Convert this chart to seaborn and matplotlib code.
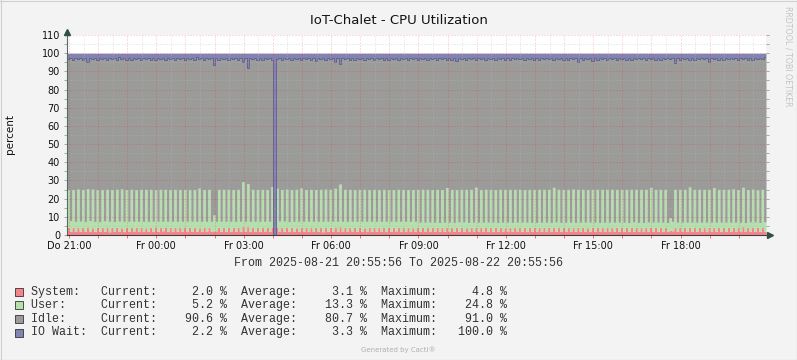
import numpy as np
import pandas as pd
import matplotlib
matplotlib.use("Agg")
import matplotlib.pyplot as plt
import seaborn as sns
from matplotlib.lines import Line2D
from matplotlib.patches import Rectangle

# 5-minute samples, 2025-08-21 20:55:56 -> 2025-08-22 20:55:56 (one row = 2 hours)
system = [
    4.2, 2.0, 4.4, 1.9, 4.1, 2.1, 4.3, 2.0, 4.5, 2.2, 4.0, 1.9, 4.2, 2.0, 4.3, 2.1, 4.1, 1.8, 4.4, 2.0, 4.2, 2.1, 4.0, 1.9,
    4.3, 2.0, 4.1, 2.2, 4.4, 1.9, 4.2, 2.0, 4.0, 2.1, 4.3, 1.9, 4.5, 2.0, 4.2, 2.3, 4.1, 2.0, 4.3, 1.9, 4.2, 2.1, 4.4, 2.0,
    4.1, 1.9, 4.2, 2.0, 4.3, 2.1, 4.0, 2.0, 4.4, 1.9, 4.2, 2.2, 2.3, 2.3, 4.3, 2.0, 4.2, 1.9, 4.1, 2.0, 4.3, 2.1, 4.2, 2.0,
    4.8, 2.1, 4.6, 2.0, 4.2, 1.9, 4.3, 2.0, 4.1, 2.2, 4.2, 2.0, 4.4, 0.0, 4.3, 2.0, 4.1, 2.1, 4.2, 1.9, 4.3, 2.0, 4.0, 2.1,
    4.4, 2.0, 4.2, 1.9, 4.1, 2.1, 4.3, 2.0, 4.2, 1.8, 4.1, 2.0, 4.3, 2.1, 4.5, 2.0, 4.6, 1.9, 4.2, 2.0, 4.1, 2.2, 4.3, 2.0,
    4.2, 2.1, 4.0, 1.9, 4.3, 2.0, 4.2, 2.1, 4.4, 2.0, 4.1, 1.9, 4.2, 2.0, 4.3, 2.2, 4.1, 2.0, 4.2, 1.9, 4.3, 2.1, 4.0, 2.0,
    4.3, 2.0, 4.2, 2.1, 4.1, 1.9, 4.4, 2.0, 4.2, 2.1, 4.3, 2.0, 4.1, 1.9, 4.2, 2.0, 4.3, 2.1, 4.2, 2.0, 4.0, 1.9, 4.3, 2.1,
    4.2, 2.0, 4.4, 2.1, 4.1, 1.9, 4.2, 2.0, 4.3, 2.1, 4.2, 2.0, 4.0, 1.9, 4.3, 2.0, 4.2, 2.2, 4.1, 2.0, 4.3, 1.9, 4.2, 2.0,
    4.1, 2.1, 4.3, 2.0, 4.2, 1.9, 4.4, 2.0, 4.2, 2.1, 4.1, 2.0, 4.3, 1.9, 4.2, 2.0, 4.1, 2.1, 4.3, 2.0, 4.2, 1.9, 4.0, 2.1,
    4.3, 2.0, 4.2, 2.1, 4.1, 1.9, 4.2, 2.0, 4.4, 2.1, 4.3, 2.0, 4.1, 1.9, 4.2, 2.0, 4.3, 2.1, 4.2, 2.0, 4.1, 1.9, 4.3, 2.0,
    4.2, 2.1, 4.4, 2.0, 4.1, 1.9, 4.2, 2.0, 2.6, 2.3, 4.3, 2.0, 4.1, 2.1, 4.2, 1.9, 4.3, 2.0, 4.4, 2.1, 4.2, 2.0, 4.1, 1.9,
    4.3, 2.0, 4.2, 2.1, 4.1, 1.9, 4.2, 2.0, 4.3, 2.1, 4.2, 2.0, 4.1, 1.9, 4.6, 2.0, 4.2, 2.1, 4.3, 2.0, 4.2, 1.9, 4.1, 2.0,
]
user = [
    20.8, 5.8, 20.6, 5.6, 21.1, 5.5, 20.7, 5.4, 20.9, 5.6, 21.2, 5.5, 20.8, 5.3, 20.6, 5.6, 21.0, 5.7, 20.5, 5.4, 20.9, 5.5, 21.3, 5.6,
    20.7, 5.5, 21.0, 5.3, 20.6, 5.6, 20.9, 5.5, 21.1, 5.4, 20.8, 5.6, 20.4, 5.5, 20.9, 5.2, 21.0, 5.5, 20.7, 5.6, 20.9, 5.4, 20.6, 5.5,
    21.0, 5.6, 20.8, 5.5, 20.7, 5.4, 21.8, 5.5, 20.6, 5.6, 20.9, 5.3, 8.7, 5.2, 20.8, 5.5, 20.9, 5.6, 21.0, 5.5, 20.7, 5.4, 20.9, 5.5,
    24.5, 5.4, 23.6, 5.5, 20.9, 5.6, 20.7, 5.5, 21.0, 5.3, 20.8, 5.5, 22.2, 0.0, 21.4, 5.6, 20.9, 5.5, 21.0, 5.4, 20.7, 5.5, 21.1, 5.4,
    21.4, 5.5, 20.8, 5.6, 21.0, 5.4, 20.7, 5.5, 20.9, 5.7, 21.1, 5.5, 20.8, 5.4, 21.2, 5.5, 23.4, 5.6, 20.9, 5.5, 21.0, 5.3, 20.7, 5.5,
    20.9, 5.4, 21.1, 5.6, 20.7, 5.5, 20.9, 5.4, 20.6, 5.5, 21.0, 5.6, 20.8, 5.5, 20.7, 5.3, 21.0, 5.5, 20.8, 5.6, 20.7, 5.4, 21.0, 5.5,
    20.8, 5.0, 20.9, 4.9, 21.0, 5.1, 20.6, 5.0, 20.9, 4.8, 20.7, 5.0, 22.0, 5.1, 20.9, 4.9, 20.7, 5.0, 20.9, 5.1, 21.1, 5.0, 20.8, 4.9,
    22.1, 5.0, 20.6, 4.9, 21.0, 5.1, 20.9, 5.0, 20.7, 4.8, 20.9, 5.0, 21.1, 5.1, 20.8, 4.9, 20.9, 4.8, 21.0, 5.0, 20.7, 5.1, 20.9, 4.9,
    21.0, 4.8, 20.8, 5.0, 20.9, 5.1, 20.7, 4.9, 22.0, 5.0, 21.0, 4.9, 20.8, 5.1, 20.9, 5.0, 21.1, 4.8, 20.8, 5.0, 20.9, 5.1, 21.0, 4.9,
    20.8, 5.0, 20.9, 4.8, 21.0, 5.1, 20.9, 5.0, 20.7, 4.9, 20.8, 5.0, 21.0, 5.1, 20.9, 4.8, 20.8, 5.0, 20.9, 4.9, 21.0, 5.0, 20.8, 5.1,
    22.0, 4.9, 20.7, 5.0, 21.0, 5.1, 20.9, 4.8, 6.9, 5.2, 20.8, 5.0, 21.0, 4.9, 20.9, 5.1, 22.1, 5.0, 20.7, 4.9, 20.9, 5.0, 21.0, 5.1,
    20.8, 5.0, 21.9, 4.9, 21.0, 5.1, 20.9, 5.0, 20.8, 4.9, 21.1, 5.0, 20.9, 5.1, 21.6, 4.8, 20.8, 5.0, 20.9, 5.1, 20.7, 4.9, 21.0, 5.2,
]
iowait = [
    3.4, 2.4, 3.5, 2.5, 3.3, 2.4, 3.6, 2.5, 4.7, 2.4, 3.4, 2.6, 3.5, 2.4, 3.3, 2.5, 3.6, 2.4, 3.4, 2.5, 3.5, 2.3, 3.4, 2.5,
    3.9, 2.4, 3.5, 2.5, 3.4, 2.4, 3.6, 2.5, 3.3, 2.4, 3.5, 2.6, 3.9, 2.4, 3.4, 2.5, 3.5, 2.4, 3.3, 2.5, 3.6, 2.4, 3.4, 2.5,
    3.5, 2.4, 3.4, 2.5, 3.6, 2.3, 3.4, 2.5, 3.5, 2.4, 3.3, 2.5, 6.5, 2.4, 3.5, 2.5, 3.4, 2.4, 3.6, 2.5, 3.4, 2.4, 3.5, 2.5,
    5.0, 2.4, 8.0, 2.5, 3.4, 2.4, 3.5, 2.5, 3.6, 2.4, 3.4, 2.5, 3.5, 100.0, 3.4, 2.4, 3.6, 2.5, 3.3, 2.4, 3.5, 2.5, 3.4, 2.4,
    3.5, 2.5, 3.4, 2.4, 3.6, 2.5, 4.2, 2.4, 3.4, 2.5, 3.5, 2.4, 3.3, 2.5, 4.6, 2.4, 5.8, 2.5, 3.4, 2.4, 3.5, 2.5, 3.6, 2.4,
    3.4, 2.5, 3.5, 2.4, 3.3, 2.5, 3.6, 2.4, 3.4, 2.5, 3.5, 2.4, 3.6, 2.5, 3.4, 2.4, 3.5, 2.5, 3.3, 2.4, 4.0, 2.5, 3.4, 2.4,
    3.5, 2.5, 3.4, 2.4, 3.6, 2.5, 3.3, 2.4, 3.5, 2.5, 3.4, 2.4, 3.6, 2.5, 3.5, 2.4, 4.2, 2.5, 3.4, 2.4, 3.5, 2.5, 3.3, 2.4,
    3.6, 2.5, 3.4, 2.4, 3.5, 2.5, 3.3, 2.4, 3.6, 2.5, 3.4, 2.4, 3.5, 2.5, 3.6, 2.4, 3.4, 2.5, 3.3, 2.4, 3.5, 2.5, 3.4, 2.4,
    3.5, 2.5, 3.6, 2.4, 3.4, 2.5, 3.3, 2.4, 3.5, 2.5, 3.4, 2.4, 3.6, 2.5, 3.5, 2.4, 3.4, 2.5, 4.7, 2.4, 3.5, 2.5, 3.4, 2.4,
    4.2, 2.5, 3.5, 2.4, 3.4, 2.5, 3.6, 2.4, 3.3, 2.5, 3.5, 2.4, 3.4, 2.5, 3.6, 2.4, 3.5, 2.5, 3.4, 2.4, 3.3, 2.5, 3.5, 2.4,
    3.4, 2.5, 3.6, 2.4, 3.5, 2.5, 3.4, 2.4, 3.3, 2.5, 5.2, 2.4, 3.5, 2.5, 3.4, 2.4, 3.6, 2.5, 3.5, 2.4, 3.4, 2.5, 3.3, 2.4,
    4.6, 2.5, 3.4, 2.4, 3.5, 2.5, 3.6, 2.4, 3.4, 2.5, 3.3, 2.4, 3.5, 2.5, 3.4, 2.4, 3.6, 2.5, 3.5, 2.4, 3.4, 2.5, 3.3, 2.2,
]

series_names = ["System", "User", "Idle", "IO Wait"]
current = [2.0, 5.2, 90.6, 2.2]
average = [3.1, 13.3, 80.7, 3.3]
maximum = [4.8, 24.8, 91.0, 100.0]
hour_labels = ["Do 21:00", "Fr 00:00", "Fr 03:00", "Fr 06:00", "Fr 09:00", "Fr 12:00", "Fr 15:00", "Fr 18:00"]
start_str = "2025-08-21 20:55:56"
end_str = "2025-08-22 20:55:56"

colors = {"System": "#F4838B", "User": "#B4E0AC", "Idle": "#9B9B99", "IO Wait": "#8383B2"}

df = pd.DataFrame({"System": system, "User": user, "IO Wait": iowait})
df["Idle"] = 100 - df["System"] - df["User"] - df["IO Wait"]
df["t"] = np.arange(len(df)) * 5 / 60  # hours since start
# repeat last sample so the last step reaches the right edge
df = pd.concat([df, df.iloc[[-1]].assign(t=24.0)], ignore_index=True)

sns.set_style("white")
plt.rcParams["font.family"] = ["DejaVu Sans"]

W, H = 797, 360
fx = lambda x: x / W
fy = lambda y: 1 - y / H

fig = plt.figure(figsize=(7.97, 3.6), dpi=100, facecolor="#F3F3F3")
ax = fig.add_axes([fx(67), fy(235), (766 - 67) / W, 200 / H])
ax.set_facecolor("white")

# stacked areas
base = np.zeros(len(df))
for name in series_names:
    top = base + df[name].values
    ax.fill_between(df["t"], base, top, step="post", color=colors[name], lw=0, zorder=2)
    base = top

# outline along the top of idle
idle_top = df["System"] + df["User"] + df["Idle"]
sns.lineplot(x=df["t"], y=idle_top, ax=ax, drawstyle="steps-post", estimator=None,
             color="#5B5B8E", lw=0.6, zorder=3)

ax.set_xlim(0, 24)
ax.set_ylim(0, 110)

# grid (on top of areas, rrdtool style)
major_c = (0.95, 0.15, 0.15, 0.32)
minor_c = (0.72, 0.72, 0.72, 0.5)
dots = (1, 2)
h0 = (4 + 4 / 60) / 60  # 21:00 is 4m04s after start
for k in range(24):
    ax.axvline(h0 + k, color=major_c, lw=0.72, dashes=dots, zorder=4)
    if h0 + k + 0.5 < 24:
        ax.axvline(h0 + k + 0.5, color=minor_c, lw=0.72, dashes=dots, zorder=4)
for v in range(10, 111, 10):
    ax.axhline(v, color=major_c, lw=0.72, dashes=dots, zorder=4)
for v in range(5, 110, 10):
    ax.axhline(v, color=minor_c, lw=0.72, dashes=dots, zorder=4)

# ticks
ax.set_yticks(range(0, 111, 10))
ax.set_yticks(range(5, 110, 10), minor=True)
ax.tick_params(axis="y", which="both", left=True, right=True, length=2.5, width=0.6,
               color="#9a9a9a", labelsize=7, pad=2.5, labelcolor="#111")
ax.set_xticks([h0 + 3 * k for k in range(len(hour_labels))])
ax.set_xticklabels(hour_labels)
ax.set_xticks([h0 + k for k in range(24)], minor=True)
ax.tick_params(axis="x", which="both", bottom=True, length=2, width=0.6,
               color="#e06060", labelsize=7, pad=2.5, labelcolor="#111")
ax.set_xlabel("")
ax.set_ylabel("")

for s in ["top", "right"]:
    ax.spines[s].set_visible(False)
ax.spines["left"].set_color("#4f6f64")
ax.spines["bottom"].set_color("#404040")
ax.spines["left"].set_linewidth(0.8)
ax.spines["bottom"].set_linewidth(0.8)
ax.spines["left"].set_zorder(5)
ax.spines["bottom"].set_zorder(5)
ax.plot([0], [111.8], marker="^", ms=4, color="#2f4f48", clip_on=False, zorder=6)
ax.plot([24.15], [0], marker=">", ms=4, color="#2f4f48", clip_on=False, zorder=6)

# title and side texts
fig.text(fx(398.5), fy(21), "IoT-Chalet - CPU Utilization", ha="center", va="center",
         fontsize=9.5, color="#111")
fig.text(fx(10.5), fy(134), "percent", rotation=90, ha="center", va="center",
         fontsize=7.5, color="#111")
fig.text(fx(788), fy(56), "RRDTOOL / TOBI OETIKER", rotation=270, ha="center", va="center",
         fontsize=5.7, color="#c4c4c4")
mono = "Liberation Mono"
fig.text(fx(398.5), fy(263), f"From {start_str} To {end_str}", ha="center", va="center",
         fontsize=8.4, family=mono, color="#333")

# legend
row_y = [291.7, 305.3, 318.9, 332.5]
for name, cur, avg, mx, y in zip(series_names, current, average, maximum, row_y):
    fig.add_artist(Rectangle((fx(15), fy(y + 4)), 8 / W, 8 / H, transform=fig.transFigure,
                             facecolor=colors[name], edgecolor="#333333", lw=0.6))
    line = f"{name + ':':<10}Current:{cur:8.1f} %  Average:{avg:8.1f} %  Maximum:{mx:8.1f} %"
    fig.text(fx(30.7), fy(y), line, ha="left", va="center", fontsize=8.4, family=mono, color="#333")

fig.text(fx(398), fy(350), "Generated by Cacti\u00ae", ha="center", va="center", fontsize=5, color="#b0b0b0")

# frame around the image
fig.add_artist(Line2D([0, 1], [fy(0.5), fy(0.5)], transform=fig.transFigure, color="#d0d0d0", lw=0.8))
fig.add_artist(Line2D([fx(0.5), fx(0.5)], [0, 1], transform=fig.transFigure, color="#d0d0d0", lw=0.8))
fig.add_artist(Line2D([0, 1], [fy(359.5), fy(359.5)], transform=fig.transFigure, color="#9a9a9a", lw=0.8))
fig.add_artist(Line2D([fx(796.5), fx(796.5)], [0, 1], transform=fig.transFigure, color="#9a9a9a", lw=0.8))

fig.savefig("out.png", dpi=100, facecolor=fig.get_facecolor())
